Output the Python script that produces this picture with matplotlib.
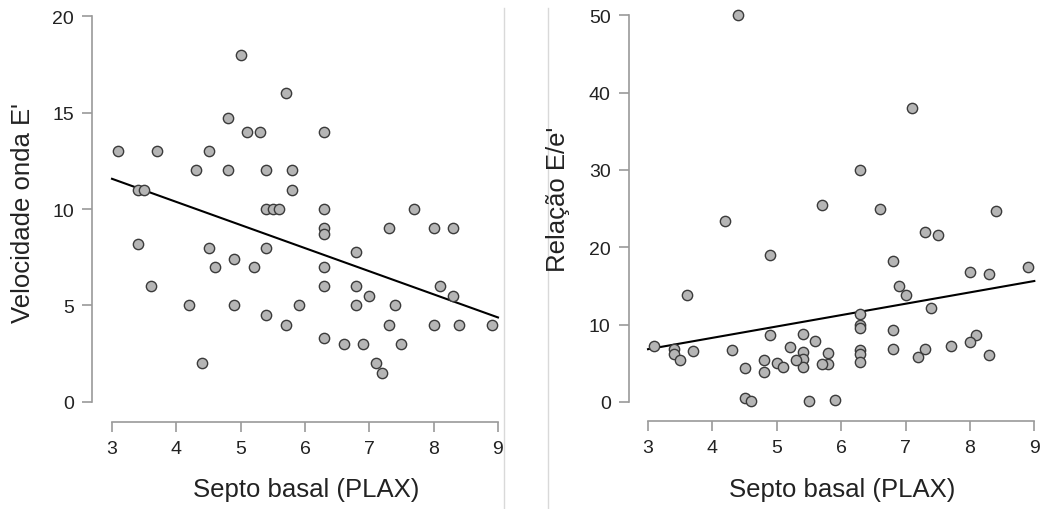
import numpy as np
import matplotlib
matplotlib.use("Agg")
import matplotlib.pyplot as plt
from matplotlib.lines import Line2D

plt.rcParams['font.family'] = ['Liberation Sans', 'DejaVu Sans']

# left panel: septo basal vs velocidade onda E'
septo_e = [3.1, 3.4, 3.5, 3.4, 3.6, 3.7, 4.2, 4.3, 4.4, 4.5, 4.5, 4.6, 4.8, 4.8, 4.9,
           4.9, 5.0, 5.1, 5.2, 5.3, 5.4, 5.4, 5.5, 5.6, 5.4, 5.4, 5.7, 5.7, 5.8, 5.8,
           5.9, 6.3, 6.3, 6.3, 6.3, 6.3, 6.3, 6.3, 6.6, 6.8, 6.8, 6.8, 6.9, 7.0, 7.1,
           7.2, 7.3, 7.3, 7.4, 7.5, 7.7, 8.0, 8.0, 8.1, 8.3, 8.3, 8.4, 8.9]
vel_e = [13, 11, 11, 8.2, 6, 13, 5, 12, 2, 13, 8, 7, 14.7, 12, 7.4,
         5, 18, 14, 7, 14, 12, 10, 10, 10, 8, 4.5, 16, 4, 12, 11,
         5, 14, 10, 9, 8.7, 7, 6, 3.3, 3, 7.75, 6, 5, 3, 5.5, 2,
         1.5, 9, 4, 5, 3, 10, 9, 4, 6, 9, 5.5, 4, 4]

# right panel: septo basal vs relacao E/e'
septo_r = [4.4, 7.1, 6.3, 5.7, 6.6, 8.4, 4.2, 7.3, 7.5, 4.9, 6.8, 8.0, 8.3, 8.9, 6.9,
           7.0, 3.6, 7.4, 6.3, 6.3, 6.3, 6.8, 4.9, 5.4, 8.1, 5.6, 8.0, 5.2, 7.7, 3.1,
           3.4, 3.4, 3.7, 4.3, 6.8, 7.3, 6.3, 6.3, 6.3, 5.4, 5.4, 5.4, 5.8, 5.8, 5.7,
           7.2, 8.3, 3.5, 4.8, 5.3, 5.0, 5.1, 4.5, 4.8, 4.5, 4.6, 5.5, 5.9]
rel_ee = [50, 38, 30, 25.5, 25, 24.75, 23.4, 22, 21.65, 19, 18.2, 16.75, 16.57, 17.5, 15,
          13.8, 13.8, 12.2, 11.4, 10, 9.55, 9.3, 8.6, 8.8, 8.67, 7.9, 7.76, 7.16, 7.2, 7.2,
          6.9, 6.2, 6.64, 6.77, 6.8, 6.9, 6.7, 6.2, 5.2, 6.4, 5.56, 4.57, 6.3, 4.88, 4.88,
          5.86, 6.12, 5.43, 5.43, 5.43, 5.09, 4.57, 4.4, 3.88, 0.5, 0.1, 0.1, 0.2]

x_ticks = [3, 4, 5, 6, 7, 8, 9]
y_ticks_e = [0, 5, 10, 15, 20]
y_ticks_r = [0, 10, 20, 30, 40, 50]

W, H = 1046, 510
fig = plt.figure(figsize=(W / 100, H / 100), dpi=100)


def make_panel(rect, x, y, yticks, xlim, ylim):
    ax = fig.add_axes(rect)
    ax.scatter(x, y, s=55, c='#b5b5b5', edgecolors='#3a3a3a', linewidths=1.0, zorder=3)
    coef = np.polyfit(x, y, 1)
    xs = np.array([x_ticks[0], x_ticks[-1]])
    ax.plot(xs, np.polyval(coef, xs), color='black', lw=1.5, zorder=2)
    ax.set_xlim(*xlim)
    ax.set_ylim(*ylim)
    ax.set_xticks(x_ticks)
    ax.set_yticks(yticks)
    for s in ['top', 'right']:
        ax.spines[s].set_visible(False)
    ax.spines['left'].set_bounds(yticks[0], yticks[-1])
    ax.spines['bottom'].set_bounds(x_ticks[0], x_ticks[-1])
    for s in ['left', 'bottom']:
        ax.spines[s].set_color('#9a9a9a')
        ax.spines[s].set_linewidth(1.2)
    ax.tick_params(length=7, width=1.2, color='#9a9a9a', labelsize=14,
                   labelcolor='#222222', pad=6)
    ax.patch.set_alpha(0)
    return ax


ax1 = make_panel([92 / W, (H - 422.7) / H, (505 - 92) / W, (422.7 - 10) / H],
                 septo_e, vel_e, y_ticks_e, (2.689, 9.109), (-1.021, 20.363))
ax2 = make_panel([628.7 / W, (H - 421.7) / H, (1041 - 628.7) / W, (421.7 - 10) / H],
                 septo_r, rel_ee, y_ticks_r, (2.700, 9.104), (-2.418, 50.81))

fig.text(23 / W, 1 - 213 / H, "Velocidade onda E'", rotation=90, ha='center', va='center',
         fontsize=18.5, color='#222222')
fig.text(558 / W, 1 - 199 / H, "Relação E/e'", rotation=90, ha='center', va='center',
         fontsize=18.5, color='#222222')
fig.text(305.8 / W, 1 - 490 / H, "Septo basal (PLAX)", ha='center', va='center',
         fontsize=18.5, color='#222222')
fig.text(842 / W, 1 - 490 / H, "Septo basal (PLAX)", ha='center', va='center',
         fontsize=18.5, color='#222222')

# thin separators between panels
for px in [504.3, 547.7]:
    fig.add_artist(Line2D([px / W, px / W], [0, 1 - 9 / H], color='#d9d9d9', lw=1.0))

fig.savefig("out.png", dpi=100)
